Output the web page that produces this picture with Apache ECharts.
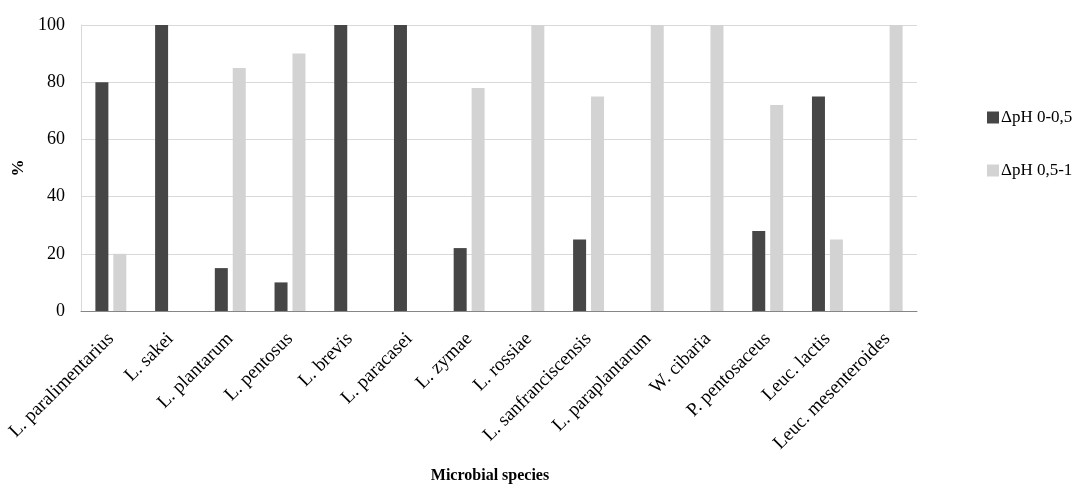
<!DOCTYPE html>
<html><head><meta charset="utf-8">
<script src="https://cdn.jsdelivr.net/npm/echarts@6/dist/echarts.min.js"></script>
<style>html,body{margin:0;padding:0;background:#fff}#c{width:1074px;height:485px}</style>
</head><body><div id="c"></div>
<script>
const categories = ["L. paralimentarius","L. sakei","L. plantarum","L. pentosus","L. brevis","L. paracasei","L. zymae","L. rossiae","L. sanfranciscensis","L. paraplantarum","W. cibaria","P. pentosaceus","Leuc. lactis","Leuc. mesenteroides"];
const seriesNames = ["ΔpH 0-0,5","ΔpH 0,5-1"];
const dpH0_05 = [80,100,15,10,100,100,22,0,25,0,0,28,75,0];
const dpH05_1 = [20,0,85,90,0,0,78,100,75,100,100,72,25,100];
const yTicks = {min:0,max:100,interval:20};

const font = "'Liberation Serif','Times New Roman',serif";
const chart = echarts.init(document.getElementById('c'), null, {renderer:'canvas'});
chart.setOption({
  animation:false,
  textStyle:{fontFamily:font},
  grid:{left:81,right:157,top:25,bottom:174,containLabel:false,outerBoundsMode:'none'},
  legend:{
    orient:'vertical', left:982, top:104, itemWidth:12, itemHeight:12, itemGap:36,
    icon:'rect',
    textStyle:{fontFamily:font,fontSize:17,color:'#000',padding:[0,0,0,-3]},
    data:seriesNames
  },
  xAxis:{
    type:'category', data:categories,
    name:'Microbial species', nameLocation:'middle', nameGap:157,
    nameTextStyle:{fontFamily:font,fontSize:16,fontWeight:'bold',color:'#000',padding:[0,18,0,0]},
    axisLine:{lineStyle:{color:'#868686',width:1}},
    axisTick:{show:false},
    axisLabel:{rotate:45,interval:0,fontFamily:font,fontSize:19,color:'#000',margin:25},
    splitLine:{show:false}
  },
  yAxis:{
    type:'value', min:yTicks.min, max:yTicks.max, interval:yTicks.interval,
    name:'%', nameLocation:'middle', nameGap:54, nameRotate:90,
    nameTextStyle:{fontFamily:font,fontSize:17,fontWeight:'bold',color:'#000'},
    axisLine:{show:true,lineStyle:{color:'#d9d9d9',width:1}},
    axisTick:{show:false},
    axisLabel:{fontFamily:font,fontSize:18,color:'#000',margin:16},
    splitLine:{lineStyle:{color:'#d9d9d9',width:1}}
  },
  series:[
    {name:seriesNames[0],type:'bar',data:dpH0_05,barWidth:13,barGap:'38%',itemStyle:{color:'#464646'}},
    {name:seriesNames[1],type:'bar',data:dpH05_1,barWidth:13,barGap:'38%',itemStyle:{color:'#d3d3d3'}}
  ]
});
</script></body></html>
